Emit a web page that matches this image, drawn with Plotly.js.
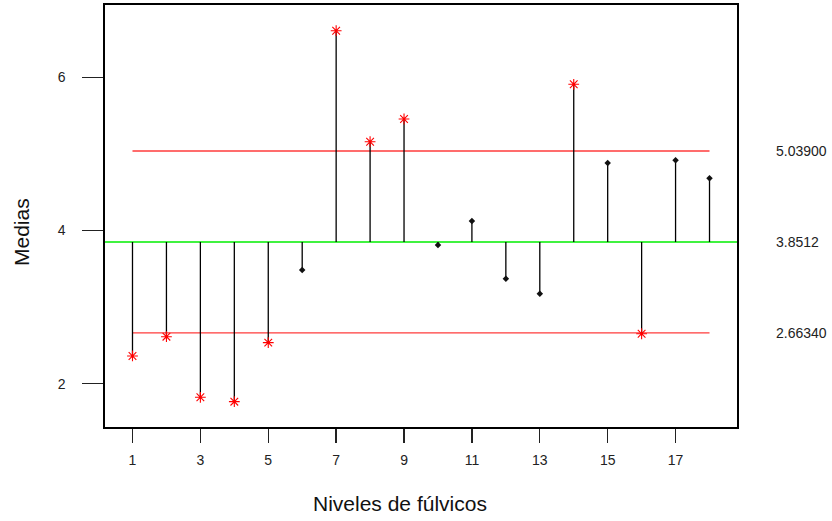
<!DOCTYPE html>
<html>
<head>
<meta charset="utf-8">
<script src="https://cdn.plot.ly/plotly-3.0.1.min.js"></script>
<style>html,body{margin:0;padding:0;background:#fff;}#chart{width:832px;height:521px;}</style>
</head>
<body>
<div id="chart"></div>
<script>
// Data
var levels = [1,2,3,4,5,6,7,8,9,10,11,12,13,14,15,16,17,18];
var means = [2.362,2.614,1.822,1.765,2.536,3.485,6.611,5.161,5.458,3.812,4.125,3.372,3.176,5.911,4.883,2.652,4.918,4.683];
var centerLine = 3.8512;
var upperLimit = 5.039;
var lowerLimit = 2.6634;
var limitLabels = ["5.03900","3.8512","2.66340"];
var xTickVals = [1,3,5,7,9,11,13,15,17];
var yTickVals = [2,4,6];
var xTitle = "Niveles de fúlvicos";
var yTitle = "Medias";

// Build stems
var stemX = [], stemY = [];
levels.forEach(function(l,i){ stemX.push(l,l,null); stemY.push(centerLine, means[i], null); });
var outX = [], outY = [], inX = [], inY = [];
levels.forEach(function(l,i){
  if (means[i] > upperLimit || means[i] < lowerLimit) { outX.push(l); outY.push(means[i]); }
  else { inX.push(l); inY.push(means[i]); }
});

var traces = [
  {x: stemX, y: stemY, mode: 'lines', line: {color: '#000', width: 1.3}, hoverinfo: 'skip', showlegend: false},
  {x: inX, y: inY, mode: 'markers', marker: {symbol: 'diamond', size: 5, color: '#111'}, showlegend: false},
  {x: outX, y: outY, mode: 'markers', marker: {symbol: 'asterisk-open', size: 9, color: '#ff0000', line: {color: '#ff0000', width: 1.1}}, showlegend: false}
];

var font = "Arial, 'Liberation Sans', sans-serif";
var layout = {
  width: 832, height: 521,
  margin: {l: 105, r: 95, t: 5, b: 94},
  paper_bgcolor: '#fff', plot_bgcolor: '#fff',
  showlegend: false,
  font: {family: font, size: 14, color: '#222'},
  xaxis: {
    range: [0.19, 18.81], tickvals: xTickVals, ticktext: xTickVals.map(String),
    ticks: 'outside', ticklen: 14, tickwidth: 1.3, tickcolor: '#222',
    showline: true, linecolor: '#000', linewidth: 1.6, mirror: true,
    showgrid: false, zeroline: false, ticklabelstandoff: 6,
    tickfont: {family: font, size: 14, color: '#222'}
  },
  yaxis: {
    range: [1.434, 6.947], tickvals: yTickVals, ticktext: yTickVals.map(String),
    ticks: 'outside', ticklen: 21, tickwidth: 1.3, tickcolor: '#222',
    showline: true, linecolor: '#000', linewidth: 1.6, mirror: true,
    showgrid: false, zeroline: false, ticklabelstandoff: 14,
    tickfont: {family: font, size: 14, color: '#222'}
  },
  shapes: [
    {type: 'line', xref: 'paper', x0: 0, x1: 1, yref: 'y', y0: centerLine, y1: centerLine, line: {color: '#00ee00', width: 1.6}, layer: 'below'},
    {type: 'line', xref: 'x', x0: levels[0], x1: levels[levels.length-1], yref: 'y', y0: upperLimit, y1: upperLimit, line: {color: '#ff3b3b', width: 1.4}, layer: 'below'},
    {type: 'line', xref: 'x', x0: levels[0], x1: levels[levels.length-1], yref: 'y', y0: lowerLimit, y1: lowerLimit, line: {color: '#ff3b3b', width: 1.4}, layer: 'below'}
  ],
  annotations: [
    {xref: 'paper', yref: 'y', x: 1.058, y: upperLimit, text: limitLabels[0], showarrow: false, xanchor: 'left', font: {family: font, size: 14, color: '#222'}},
    {xref: 'paper', yref: 'y', x: 1.058, y: centerLine, text: limitLabels[1], showarrow: false, xanchor: 'left', font: {family: font, size: 14, color: '#222'}},
    {xref: 'paper', yref: 'y', x: 1.058, y: lowerLimit, text: limitLabels[2], showarrow: false, xanchor: 'left', font: {family: font, size: 14, color: '#222'}},
    {xref: 'paper', yref: 'paper', x: (400-105)/632, y: -(503-427)/422, text: xTitle, showarrow: false, xanchor: 'center', yanchor: 'middle', font: {family: font, size: 21, color: '#111'}},
    {xref: 'paper', yref: 'paper', x: -(105-22)/632, y: (427-232)/422, text: yTitle, showarrow: false, textangle: -90, xanchor: 'center', yanchor: 'middle', font: {family: font, size: 21, color: '#111'}}
  ]
};

Plotly.newPlot('chart', traces, layout, {displayModeBar: false, staticPlot: true});
</script>
</body>
</html>
